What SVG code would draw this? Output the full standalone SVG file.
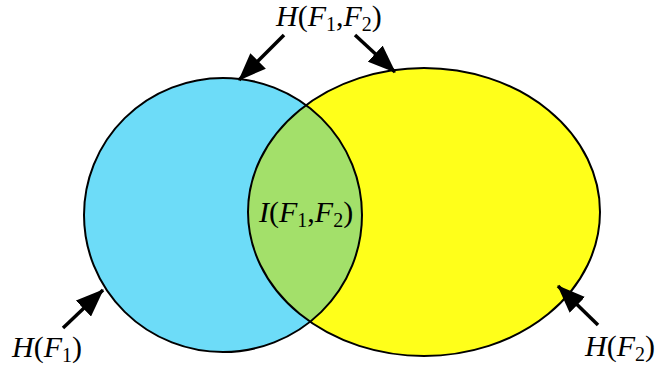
<svg xmlns="http://www.w3.org/2000/svg" width="657" height="371" viewBox="0 0 657 371">
<style>
.lbl{font-family:"Liberation Serif",serif;font-size:30px;fill:#000}
.it{font-style:italic}
.sub{font-size:20px}
.arr{stroke:#000;stroke-width:3.5;fill:none;marker-end:url(#ah)}
.ol{fill:none;stroke:#000;stroke-width:2}
</style>
<defs>
<marker id="ah" viewBox="0 0 28 22" refX="27" refY="11" markerWidth="28" markerHeight="22" orient="auto" markerUnits="userSpaceOnUse">
<path d="M0,0 L28,11 L0,22 z" fill="#000"/>
</marker>
<clipPath id="clipY"><ellipse cx="424" cy="212" rx="176" ry="144"/></clipPath>
</defs>
<rect width="657" height="371" fill="#fff"/>
<g id="set-f1">
<ellipse cx="223" cy="215" rx="139" ry="137" fill="#6ddcf8"/>
</g>
<g id="set-f2">
<ellipse cx="424" cy="212" rx="176" ry="144" fill="#ffff1a"/>
</g>
<g id="intersection">
<ellipse cx="223" cy="215" rx="139" ry="137" fill="#a3e06a" clip-path="url(#clipY)"/>
<ellipse cx="223" cy="215" rx="139" ry="137" class="ol"/>
<ellipse cx="424" cy="212" rx="176" ry="144" class="ol"/>
<text class="lbl" x="259" y="222"><tspan class="it">I</tspan>(<tspan class="it">F</tspan><tspan class="sub" dy="5">1</tspan><tspan dy="-5">,</tspan><tspan class="it">F</tspan><tspan class="sub" dy="5">2</tspan><tspan dy="-5">)</tspan></text>
</g>
<g id="connectors">
<line class="arr" x1="284" y1="35" x2="239" y2="80"/>
<line class="arr" x1="355" y1="35" x2="395" y2="72"/>
<line class="arr" x1="63" y1="328" x2="103" y2="290"/>
<line class="arr" x1="598" y1="325" x2="558" y2="286"/>
</g>
<g id="label-h12">
<text class="lbl" x="276" y="26"><tspan class="it">H</tspan>(<tspan class="it">F</tspan><tspan class="sub" dy="5">1</tspan><tspan dy="-5">,</tspan><tspan class="it">F</tspan><tspan class="sub" dy="5">2</tspan><tspan dy="-5">)</tspan></text>
</g>
<g id="label-h1">
<text class="lbl" x="12" y="357"><tspan class="it">H</tspan>(<tspan class="it">F</tspan><tspan class="sub" dy="5">1</tspan><tspan dy="-5">)</tspan></text>
</g>
<g id="label-h2">
<text class="lbl" x="585" y="356"><tspan class="it">H</tspan>(<tspan class="it">F</tspan><tspan class="sub" dy="5">2</tspan><tspan dy="-5">)</tspan></text>
</g>
</svg>
